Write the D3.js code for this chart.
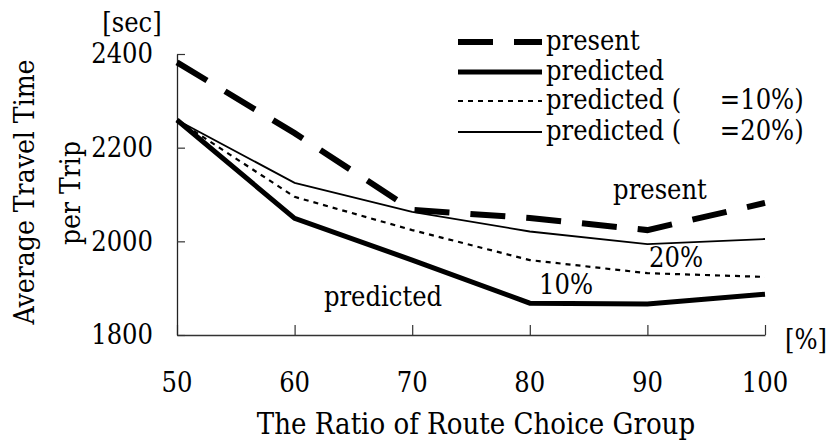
<!DOCTYPE html>
<html><head><meta charset="utf-8">
<script src="https://cdn.jsdelivr.net/npm/d3@7"></script>
<style>body{margin:0;background:#fff}svg{display:block}</style>
</head><body><svg id="c" width="833" height="441"></svg>
<script>
const ratios = [50, 60, 70, 80, 90, 100];
const present = [2382, 2231, 2067, 2050, 2024, 2082];
const predicted = [2259, 2049, 1960, 1868, 1866, 1887];
const predicted10 = [2259, 2095, 2024, 1960, 1932, 1924];
const predicted20 = [2259, 2125, 2063, 2021, 1994, 2005];
const yTicks = [1800, 2000, 2200, 2400];
const xTicks = [50, 60, 70, 80, 90, 100];

const FONT = "'DejaVu Serif Condensed', 'DejaVu Serif'";
const svg = d3.select("#c");
const x = d3.scaleLinear().domain([50, 100]).range([177, 765]);
const y = d3.scaleLinear().domain([1800, 2400]).range([335, 54]);
const fs = 27;

const xAxis = svg.append("g").attr("transform", `translate(0,${y(1800)})`)
  .call(d3.axisBottom(x).tickValues(xTicks).tickSizeInner(-10).tickSizeOuter(0).tickFormat(""));
xAxis.select(".domain").attr("stroke", "#333").attr("stroke-width", 1.3);
xAxis.selectAll(".tick line").attr("stroke", "#333").attr("stroke-width", 1.2);

const yAxis = svg.append("g").attr("transform", `translate(${x(50)},0)`)
  .call(d3.axisLeft(y).tickValues(yTicks).tickSizeInner(-8).tickSizeOuter(0).tickFormat(""));
yAxis.select(".domain").attr("stroke", "#222").attr("stroke-width", 1.3);
yAxis.selectAll(".tick line").attr("stroke", "#333").attr("stroke-width", 1.2);

const T = (sel, size) => sel.style("font-family", FONT).attr("font-size", size || fs).attr("fill", "#000");

svg.append("g").selectAll("text").data(yTicks).join("text").call(T)
  .attr("x", 153).attr("y", d => y(d)).attr("dy", "0.35em")
  .attr("text-anchor", "end").text(d => d);
svg.append("g").selectAll("text").data(xTicks).join("text").call(T)
  .attr("x", d => x(d)).attr("y", 383).attr("dy", "0.35em")
  .attr("text-anchor", "middle").text(d => d);

svg.append("text").call(T).attr("x", 132).attr("y", 23).attr("dy", "0.35em").attr("text-anchor", "middle").text("[sec]");
svg.append("text").call(T).attr("x", 806).attr("y", 340).attr("dy", "0.35em").attr("text-anchor", "middle").text("[%]");
svg.append("text").call(T, 29).attr("x", 476).attr("y", 424).attr("dy", "0.35em").attr("text-anchor", "middle").text("The Ratio of Route Choice Group");
svg.append("text").call(T, 28).attr("transform", "translate(24,192) rotate(-90)").attr("dy", "0.35em").attr("text-anchor", "middle").text("Average Travel Time");
svg.append("text").call(T, 28).attr("transform", "translate(70,193) rotate(-90)").attr("dy", "0.35em").attr("text-anchor", "middle").text("per Trip");

const series = [
  {label: "present", vals: present, w: 6, dash: "35,21"},
  {label: "predicted", vals: predicted, w: 5, dash: null},
  {label: "predicted (\u00a0\u00a0\u00a0\u00a0\u00a0=10%)", vals: predicted10, w: 2.2, dash: "5,5"},
  {label: "predicted (\u00a0\u00a0\u00a0\u00a0\u00a0=20%)", vals: predicted20, w: 1.8, dash: null}
];
const line = d3.line().x((d, i) => x(ratios[i])).y(d => y(d));
series.forEach(s => {
  svg.append("path").datum(s.vals).attr("d", line).attr("fill", "none")
    .attr("stroke", "#000").attr("stroke-width", s.w)
    .attr("stroke-dasharray", s.dash).attr("stroke-linejoin", "miter");
});

const ly = [42, 72, 101, 132];
series.forEach((s, i) => {
  svg.append("line").attr("x1", 458).attr("x2", 542).attr("y1", ly[i]).attr("y2", ly[i])
    .attr("stroke", "#000").attr("stroke-width", s.w).attr("stroke-dasharray", s.dash);
  svg.append("text").call(T).attr("x", 546).attr("y", ly[i]).attr("dy", "0.3em").text(s.label);
});

svg.append("text").call(T).attr("x", 660).attr("y", 190).attr("dy", "0.35em").attr("text-anchor", "middle").text("present");
svg.append("text").call(T).attr("x", 676).attr("y", 258).attr("dy", "0.35em").attr("text-anchor", "middle").text("20%");
svg.append("text").call(T).attr("x", 566).attr("y", 285).attr("dy", "0.35em").attr("text-anchor", "middle").text("10%");
svg.append("text").call(T).attr("x", 383).attr("y", 297).attr("dy", "0.35em").attr("text-anchor", "middle").text("predicted");
</script></body></html>
